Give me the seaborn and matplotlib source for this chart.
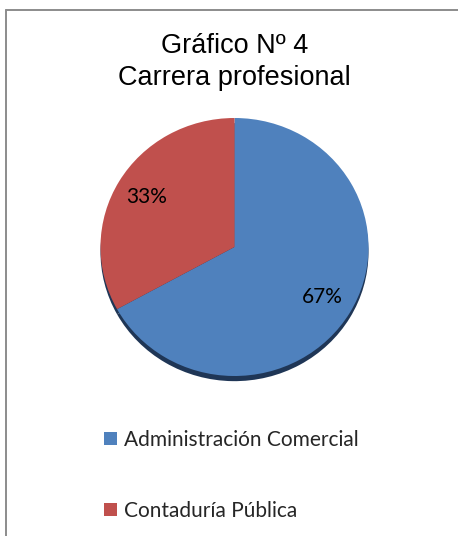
import matplotlib
matplotlib.use("Agg")
import matplotlib.pyplot as plt
import seaborn as sns
from matplotlib.patches import Patch
from matplotlib.lines import Line2D

# Data
categories = ["Administración Comercial", "Contaduría Pública"]
shares = [67, 33]
colors = ["#4F81BD", "#C0504D"]
title_lines = ["Gráfico Nº 4", "Carrera profesional"]

sns.set_theme(style="white")
plt.rcParams["font.family"] = ["Lato", "DejaVu Sans"]

W, H = 458, 536
fig = plt.figure(figsize=(W / 100, H / 100), dpi=100)
fig.patch.set_facecolor("white")

# Chart-area frame (top and left edges visible)
fig.add_artist(Line2D([6 / W, 1.0], [1 - 9.5 / H, 1 - 9.5 / H],
                      transform=fig.transFigure, color="#8c8c8c", lw=1.4))
fig.add_artist(Line2D([6 / W, 6 / W], [0.0, 1 - 9.5 / H],
                      transform=fig.transFigure, color="#8c8c8c", lw=1.4))

# Pie axes: centre at (234, 247) px, slightly flattened (134 x 129 px)
cx, cy, rx, ry = 234.5, 247, 134, 129
half = 150
ax = fig.add_axes([(cx - half) / W, (H - cy - half) / H, 2 * half / W, 2 * half / H])
ax.set_aspect("auto")
ax.axis("off")

# Shadow underneath the pie
ax.pie(shares, startangle=90, counterclock=False, center=(0.0, -0.04),
       colors=["#1f3656", "#1f3656"], radius=1.0,
       wedgeprops=dict(linewidth=0))

wedges, texts, autotexts = ax.pie(
    shares, startangle=90, counterclock=False, colors=colors, radius=1.0,
    autopct="%d%%", pctdistance=0.76,
    wedgeprops=dict(linewidth=0),
    textprops=dict(fontsize=15, color="black", family=["Lato", "DejaVu Sans"]),
)
ax.set_aspect("auto")
ax.set_xlim(-half / rx, half / rx)
ax.set_ylim(-half / ry, half / ry)

# Title
fig.text(cx / W, 1 - 33 / H, "\n".join(title_lines), ha="center", va="top",
         fontsize=19.5, family=["Liberation Sans", "DejaVu Sans"],
         linespacing=1.32, color="black")

# Legend
handles = [Patch(facecolor=c, edgecolor="none") for c in colors]
fig.legend(handles, categories, loc="upper left",
           bbox_to_anchor=(104 / W, 1 - 430 / H), frameon=False,
           fontsize=15, handlelength=0.62, handleheight=0.62, handletextpad=0.35,
           labelspacing=2.45, borderpad=0, borderaxespad=0)

fig.savefig("out.png", dpi=100, facecolor="white")
